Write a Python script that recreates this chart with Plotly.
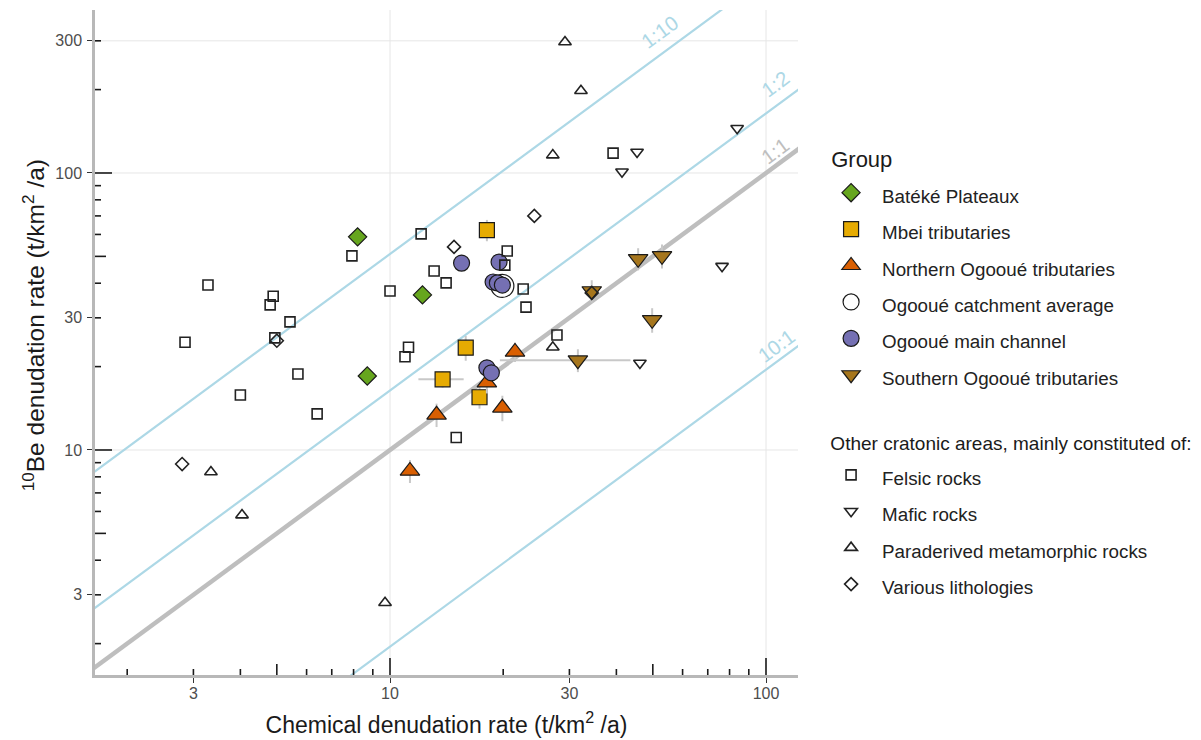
import numpy as np
import plotly.graph_objects as go

# ---------------- data ----------------
bateke_x = [8.2, 12.2, 8.7]
bateke_y = [58.8, 36.3, 18.5]
bateke_yerr = [3.0, 2.0, 1.0]

mbei_x = [18.1, 15.9, 13.8, 17.3]
mbei_y = [62.2, 23.4, 18.0, 15.5]
mbei_xerr = [0.0, 0.0, 1.9, 0.0]
mbei_yerr = [5.5, 2.4, 1.2, 1.4]

north_x = [11.3, 13.3, 19.9, 18.1, 21.5]
north_y = [8.4, 13.4, 14.2, 17.5, 22.6]
north_yerr = [0.8, 1.3, 1.5, 1.5, 1.8]

avg_x = [19.9]
avg_y = [39.1]

main_x = [15.5, 19.5, 18.8, 19.3, 19.9, 18.1, 18.6]
main_y = [47.3, 47.7, 40.4, 40.1, 39.4, 19.8, 19.0]
main_yerr = [2.5, 2.5, 2.0, 2.0, 2.0, 1.0, 1.0]

south_x = [34.4, 45.7, 52.9, 49.8, 31.6]
south_y = [37.5, 49.0, 50.2, 29.5, 21.1]
south_xerr = [0.0, 0.0, 0.0, 0.0, 12.0]
south_yerr = [3.5, 4.5, 5.0, 3.0, 2.0]

felsic_x = [2.85, 3.28, 4.0, 4.8, 4.89, 5.42, 4.94, 5.69, 6.4, 7.92, 10.0, 10.96,
            11.2, 12.1, 13.1, 14.1, 15.0, 20.5, 20.2, 22.6, 23.0, 27.8, 39.2]
felsic_y = [24.5, 39.4, 15.8, 33.4, 35.9, 29.0, 25.4, 18.8, 13.5, 50.2, 37.5, 21.7,
            23.5, 60.3, 44.3, 40.1, 11.1, 52.3, 46.5, 38.1, 32.8, 26.0, 118]

mafic_x = [45.4, 41.4, 83.8, 76.4, 46.2]
mafic_y = [119, 101, 145, 46.1, 20.6]

para_x = [29.2, 32.2, 27.1, 27.1, 3.34, 4.04, 9.7]
para_y = [297, 198, 116, 23.5, 8.33, 5.82, 2.81]

various_x = [2.80, 5.0, 14.8, 24.2, 34.4]
various_y = [8.9, 24.8, 54.1, 70.0, 36.9]

# reference lines: label, multiplier on chemical rate
ratio_labels = ["10:1", "1:1", "1:2", "1:10"]
ratio_factors = [0.195, 1.0, 1.64, 5.1]
ratio_label_x = [106.5, 106.0, 106.0, 52.3]
ratio_label_shift = [17, 15, 23, 23]

x_ticks = [3, 10, 30, 100]
y_ticks = [3, 10, 30, 100, 300]
x_grid = [10, 100]
y_grid = [10, 100, 300]

# ---------------- figure ----------------
BLUE = "#ADD8E6"
GREY = "#BEBEBE"
XR = [0.2154, 2.0851]
YR = [0.1877, 2.5884]
FONT = "Liberation Sans, Arial, sans-serif"

fig = go.Figure()

line_x = np.array([1.0, 200.0])
for lab_t, k in zip(ratio_labels, ratio_factors):
    is_one = lab_t == "1:1"
    fig.add_trace(go.Scatter(
        x=line_x, y=line_x * k, mode="lines", showlegend=False, hoverinfo="skip",
        line=dict(color=GREY if is_one else BLUE, width=4.5 if is_one else 2.2)))

def lab(t):
    return '<span style="font-size:18.8px">' + t + '</span>'

err_style = dict(color="#C8C8C8", thickness=2, width=0)

def add_group(x, y, name, symbol, color, size, yerr=None, xerr=None, title=None):
    kw = {}
    if yerr is not None:
        kw["error_y"] = dict(type="data", array=yerr, visible=True, **err_style)
    if xerr is not None:
        kw["error_x"] = dict(type="data", array=xerr, visible=True, **err_style)
    fig.add_trace(go.Scatter(
        x=x, y=y, mode="markers", name=lab(name), legendgroup="g1",
        legendgrouptitle=dict(text=title, font=dict(size=22, color="#1a1a1a")) if title else None,
        marker=dict(symbol=symbol, color=color, size=size,
                    line=dict(color="#1a1a1a", width=1.2)), **kw))

add_group(bateke_x, bateke_y, "Batéké Plateaux", "diamond", "#66A61E", 14,
          yerr=bateke_yerr, title="\u00a0Group")
add_group(mbei_x, mbei_y, "Mbei tributaries", "square", "#E6AB02", 15,
          yerr=mbei_yerr, xerr=mbei_xerr)
add_group(north_x, north_y, "Northern Ogooué tributaries", "triangle-up", "#D95F02", 17,
          yerr=north_yerr)
add_group(avg_x, avg_y, "Ogooué catchment average", "circle", "white", 23)
add_group(main_x, main_y, "Ogooué main channel", "circle", "#7570B3", 16, yerr=main_yerr)
add_group(south_x, south_y, "Southern Ogooué tributaries", "triangle-down", "#A6761D", 17,
          yerr=south_yerr, xerr=south_xerr)

def add_other(x, y, name, symbol, size, title=None):
    fig.add_trace(go.Scatter(
        x=x, y=y, mode="markers", name=lab(name), legendgroup="g2",
        legendgrouptitle=dict(text=title, font=dict(size=19, color="#1a1a1a")) if title else None,
        marker=dict(symbol=symbol, color="#222222", size=size,
                    line=dict(color="#222222", width=1.6))))

add_other(felsic_x, felsic_y, "Felsic rocks", "square-open", 10,
          title="\u00a0Other cratonic areas, mainly constituted of:")
add_other(mafic_x, mafic_y, "Mafic rocks", "triangle-down-open", 11)
add_other(para_x, para_y, "Paraderived metamorphic rocks", "triangle-up-open", 11)
add_other(various_x, various_y, "Various lithologies", "diamond-open", 10)

# ratio labels
angle = -np.degrees(np.arctan((277 / 376)))
annotations = []
for labt, k, lx, sh in zip(ratio_labels, ratio_factors, ratio_label_x, ratio_label_shift):
    annotations.append(dict(
        x=np.log10(lx), y=np.log10(lx * k), xref="x", yref="y", text=labt,
        showarrow=False, textangle=angle, yshift=sh,
        font=dict(size=20.5, color=GREY if labt == "1:1" else BLUE)))

# y axis title (placed as rotated annotation to match the reference position)
annotations.append(dict(
    x=-0.088, y=0.526, xref="paper", yref="paper", xanchor="center", yanchor="middle",
    text="<sup>10</sup>Be denudation rate (t/km<sup>2</sup> /a)", textangle=-90,
    showarrow=False, font=dict(size=24.5, color="#1a1a1a")))

# grid lines and log ticks as shapes
shapes = []
for g in x_grid:
    shapes.append(dict(type="line", xref="x", yref="paper", x0=g, x1=g, y0=0, y1=1,
                       line=dict(color="#E6E6E6", width=1), layer="below"))
for g in y_grid:
    shapes.append(dict(type="line", xref="paper", yref="y", x0=0, x1=1, y0=g, y1=g,
                       line=dict(color="#E6E6E6", width=1), layer="below"))

PW, PH = 703.0, 665.0
def tick_len(v):
    m = v / 10 ** np.floor(np.log10(v) + 1e-9)
    if abs(m - 1) < 1e-6:
        return 17
    if abs(m - 5) < 1e-6:
        return 11
    return 6

log_vals = [d * 10 ** e for e in range(0, 3) for d in range(1, 10)]
for v in log_vals:
    if 10 ** XR[0] < v < 10 ** XR[1]:
        shapes.append(dict(type="line", xref="x", yref="paper", x0=v, x1=v,
                           y0=0, y1=tick_len(v) / PH, line=dict(color="#1a1a1a", width=1.6)))
    if 10 ** YR[0] < v < 10 ** YR[1]:
        shapes.append(dict(type="line", xref="paper", yref="y", y0=v, y1=v,
                           x0=0, x1=tick_len(v) / PW, line=dict(color="#1a1a1a", width=1.6)))

axis_common = dict(type="log", showgrid=False, zeroline=False, showline=True,
                   linecolor="#B8B8B8", linewidth=2.5, ticks="outside", ticklen=5,
                   tickwidth=1.4, tickcolor="#333333", automargin=False,
                   tickfont=dict(size=16, color="#4D4D4D", family=FONT))

fig.update_layout(
    width=1201, height=740, autosize=False,
    margin=dict(l=95, r=403, t=10, b=65, autoexpand=False),
    paper_bgcolor="white", plot_bgcolor="white",
    font=dict(family=FONT, color="#1a1a1a"),
    xaxis=dict(range=XR, tickvals=x_ticks, ticktext=[str(t) for t in x_ticks],
               ticklabelstandoff=-3,
               title=dict(text="Chemical denudation rate (t/km<sup>2</sup> /a)",
                          font=dict(size=23, color="#1a1a1a"), standoff=16),
               **axis_common),
    yaxis=dict(range=YR, tickvals=y_ticks, ticktext=[str(t) for t in y_ticks],
               ticklabelstandoff=2, **axis_common),
    legend=dict(x=1.0314, y=0.8077, xanchor="left", yanchor="top",
                font=dict(size=25.7, color="#222222"), itemwidth=52,
                tracegroupgap=36, traceorder="grouped", bgcolor="rgba(0,0,0,0)"),
    annotations=annotations,
    shapes=shapes,
)

fig.write_html("out.html", config={"displayModeBar": False},
               post_script="document.body.style.margin='0';document.body.style.overflow='hidden';")
